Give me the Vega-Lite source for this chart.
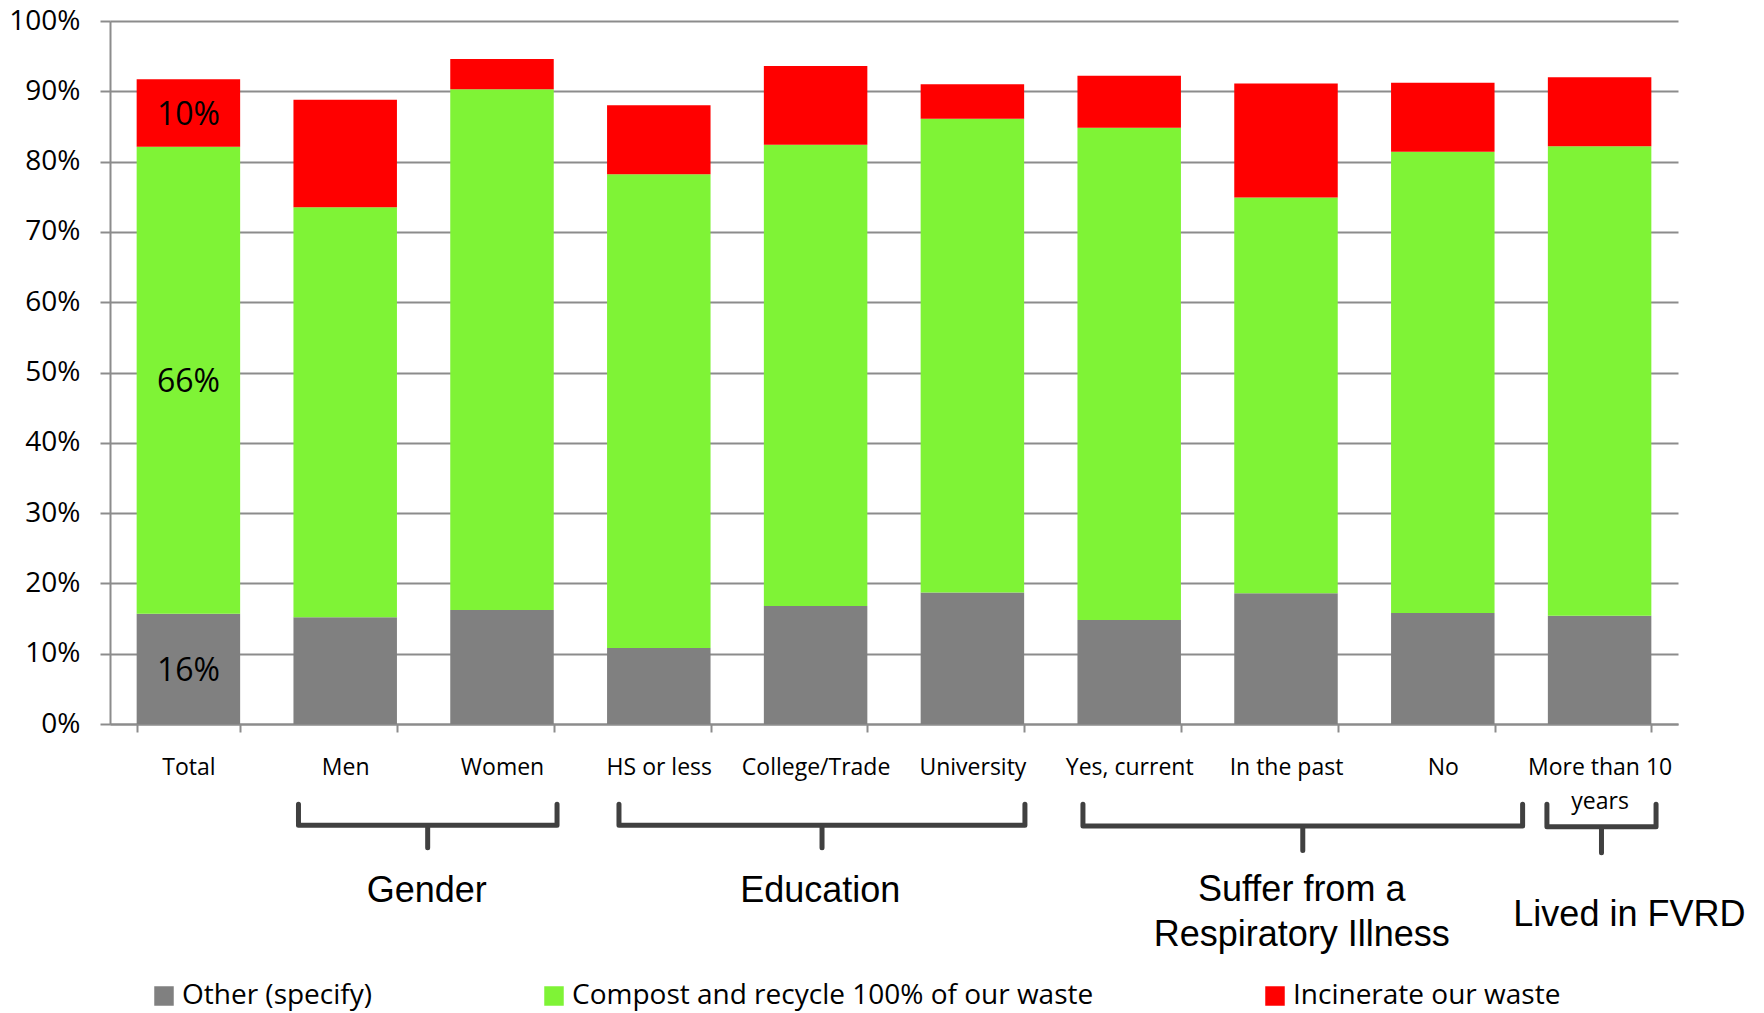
{
  "$schema": "https://vega.github.io/schema/vega-lite/v6.json",
  "width": 1568,
  "height": 703,
  "autosize": {"type": "none"},
  "padding": {"left": 110, "top": 21, "right": 86, "bottom": 289},
  "background": "white",
  "config": {
    "view": {"stroke": null},
    "font": "Open Sans",
    "axisX": {
      "labelFont": "Open Sans", "labelFontSize": 23, "labelColor": "black", "labelAngle": 0,
      "labelPadding": 24, "labelLineHeight": 34, "tickBand": "extent", "ticks": true, "tickSize": 8,
      "tickColor": "#8C8C8C", "tickWidth": 2, "domainColor": "#8C8C8C", "domainWidth": 2, "grid": false, "title": null
    },
    "axisY": {
      "labelFont": "Open Sans", "labelFontSize": 28, "labelColor": "black", "labelPadding": 20,
      "tickSize": 10, "tickColor": "#8C8C8C", "tickWidth": 2, "domainColor": "#8C8C8C", "domainWidth": 2,
      "grid": true, "gridColor": "#8C8C8C", "gridWidth": 2, "title": null
    }
  },
  "datasets": {
    "bars": [
      {"category": "Total", "type": "Other (specify)", "value": 0.157},
      {"category": "Total", "type": "Compost and recycle 100% of our waste", "value": 0.664},
      {"category": "Total", "type": "Incinerate our waste", "value": 0.096},
      {"category": "Men", "type": "Other (specify)", "value": 0.152},
      {"category": "Men", "type": "Compost and recycle 100% of our waste", "value": 0.583},
      {"category": "Men", "type": "Incinerate our waste", "value": 0.153},
      {"category": "Women", "type": "Other (specify)", "value": 0.162},
      {"category": "Women", "type": "Compost and recycle 100% of our waste", "value": 0.741},
      {"category": "Women", "type": "Incinerate our waste", "value": 0.043},
      {"category": "HS or less", "type": "Other (specify)", "value": 0.108},
      {"category": "HS or less", "type": "Compost and recycle 100% of our waste", "value": 0.674},
      {"category": "HS or less", "type": "Incinerate our waste", "value": 0.098},
      {"category": "College/Trade", "type": "Other (specify)", "value": 0.168},
      {"category": "College/Trade", "type": "Compost and recycle 100% of our waste", "value": 0.656},
      {"category": "College/Trade", "type": "Incinerate our waste", "value": 0.112},
      {"category": "University", "type": "Other (specify)", "value": 0.187},
      {"category": "University", "type": "Compost and recycle 100% of our waste", "value": 0.674},
      {"category": "University", "type": "Incinerate our waste", "value": 0.049},
      {"category": "Yes, current", "type": "Other (specify)", "value": 0.148},
      {"category": "Yes, current", "type": "Compost and recycle 100% of our waste", "value": 0.700},
      {"category": "Yes, current", "type": "Incinerate our waste", "value": 0.074},
      {"category": "In the past", "type": "Other (specify)", "value": 0.186},
      {"category": "In the past", "type": "Compost and recycle 100% of our waste", "value": 0.563},
      {"category": "In the past", "type": "Incinerate our waste", "value": 0.162},
      {"category": "No", "type": "Other (specify)", "value": 0.158},
      {"category": "No", "type": "Compost and recycle 100% of our waste", "value": 0.656},
      {"category": "No", "type": "Incinerate our waste", "value": 0.098},
      {"category": "More than 10 years", "type": "Other (specify)", "value": 0.154},
      {"category": "More than 10 years", "type": "Compost and recycle 100% of our waste", "value": 0.668},
      {"category": "More than 10 years", "type": "Incinerate our waste", "value": 0.098}
    ],
    "brackets": [
      {"group": "Gender", "i": 0, "bx": 1.202, "by": -0.114},
      {"group": "Gender", "i": 1, "bx": 1.202, "by": -0.144},
      {"group": "Gender", "i": 2, "bx": 2.026, "by": -0.144},
      {"group": "Gender", "i": 3, "bx": 2.026, "by": -0.176},
      {"group": "Gender", "i": 4, "bx": 2.026, "by": -0.144},
      {"group": "Gender", "i": 5, "bx": 2.851, "by": -0.144},
      {"group": "Gender", "i": 6, "bx": 2.851, "by": -0.114},
      {"group": "Education", "i": 0, "bx": 3.246, "by": -0.114},
      {"group": "Education", "i": 1, "bx": 3.246, "by": -0.144},
      {"group": "Education", "i": 2, "bx": 4.541, "by": -0.144},
      {"group": "Education", "i": 3, "bx": 4.541, "by": -0.176},
      {"group": "Education", "i": 4, "bx": 4.541, "by": -0.144},
      {"group": "Education", "i": 5, "bx": 5.835, "by": -0.144},
      {"group": "Education", "i": 6, "bx": 5.835, "by": -0.114},
      {"group": "Respiratory", "i": 0, "bx": 6.205, "by": -0.114},
      {"group": "Respiratory", "i": 1, "bx": 6.205, "by": -0.145},
      {"group": "Respiratory", "i": 2, "bx": 7.607, "by": -0.145},
      {"group": "Respiratory", "i": 3, "bx": 7.607, "by": -0.180},
      {"group": "Respiratory", "i": 4, "bx": 7.607, "by": -0.145},
      {"group": "Respiratory", "i": 5, "bx": 9.009, "by": -0.145},
      {"group": "Respiratory", "i": 6, "bx": 9.009, "by": -0.114},
      {"group": "Lived", "i": 0, "bx": 9.164, "by": -0.114},
      {"group": "Lived", "i": 1, "bx": 9.164, "by": -0.146},
      {"group": "Lived", "i": 2, "bx": 9.512, "by": -0.146},
      {"group": "Lived", "i": 3, "bx": 9.512, "by": -0.183},
      {"group": "Lived", "i": 4, "bx": 9.512, "by": -0.146},
      {"group": "Lived", "i": 5, "bx": 9.860, "by": -0.146},
      {"group": "Lived", "i": 6, "bx": 9.860, "by": -0.114}
    ],
    "groups": [
      {"label": "Gender", "gx": 2.02, "gy": -0.2375},
      {"label": "Education", "gx": 4.53, "gy": -0.2375},
      {"label": "Suffer from a", "gx": 7.60, "gy": -0.236},
      {"label": "Respiratory Illness", "gx": 7.60, "gy": -0.300},
      {"label": "Lived in FVRD", "gx": 9.69, "gy": -0.272}
    ]
  },
  "layer": [
    {
      "layer": [
        {
          "data": {"name": "bars"},
          "transform": [
            {"calculate": "indexof(['Other (specify)', 'Compost and recycle 100% of our waste', 'Incinerate our waste'], datum.type)", "as": "k"}
          ],
          "mark": {"type": "bar"},
          "encoding": {
            "x": {
              "field": "category", "type": "nominal",
              "sort": ["Total", "Men", "Women", "HS or less", "College/Trade", "University", "Yes, current", "In the past", "No", "More than 10 years"],
              "scale": {"paddingInner": 0.34, "paddingOuter": 0.17},
              "axis": {"labelExpr": "datum.label == 'More than 10 years' ? ['More than 10', 'years'] : datum.label"}
            },
            "y": {
              "field": "value", "type": "quantitative", "stack": "zero",
              "scale": {"domain": [0, 1], "nice": false},
              "axis": {"values": [0, 0.1, 0.2, 0.3, 0.4, 0.5, 0.6, 0.7, 0.8, 0.9, 1], "format": ".0%"},
              "title": null
            },
            "order": {"field": "k", "type": "quantitative", "sort": "ascending"},
            "color": {
              "field": "type", "type": "nominal",
              "sort": ["Other (specify)", "Compost and recycle 100% of our waste", "Incinerate our waste"],
              "scale": {
                "domain": ["Other (specify)", "Compost and recycle 100% of our waste", "Incinerate our waste"],
                "range": ["#808080", "#7FF336", "#FF0000"]
              },
              "legend": {
                "orient": "none", "legendX": 40, "legendY": 961, "direction": "horizontal", "title": null,
                "symbolType": "square", "symbolSize": 380, "symbolStrokeWidth": 0,
                "labelFont": "Open Sans", "labelFontSize": 28, "labelColor": "black", "labelOffset": 4,
                "columnPadding": 167, "padding": 0, "labelLimit": 1000
              }
            }
          }
        },
        {
          "data": {"name": "bars"},
          "transform": [
            {"filter": "datum.category === 'Total'"},
            {"calculate": "indexof(['Other (specify)', 'Compost and recycle 100% of our waste', 'Incinerate our waste'], datum.type)", "as": "k"},
            {"stack": "value", "groupby": ["category"], "sort": [{"field": "k"}], "as": ["v0", "v1"]},
            {"calculate": "(datum.v0 + datum.v1) / 2", "as": "mid"}
          ],
          "mark": {"type": "text", "font": "Open Sans", "fontSize": 32, "color": "black", "baseline": "middle", "align": "center", "dy": 2},
          "encoding": {
            "x": {
              "field": "category", "type": "nominal",
              "sort": ["Total", "Men", "Women", "HS or less", "College/Trade", "University", "Yes, current", "In the past", "No", "More than 10 years"]
            },
            "y": {"field": "mid", "type": "quantitative", "scale": {"domain": [0, 1], "nice": false}, "title": null},
            "text": {"field": "value", "type": "quantitative", "format": ".0%"}
          }
        }
      ]
    },
    {
      "data": {"name": "brackets"},
      "mark": {"type": "line", "color": "#404040", "strokeWidth": 5, "strokeJoin": "round", "strokeCap": "round"},
      "encoding": {
        "x": {"field": "bx", "type": "quantitative", "scale": {"domain": [0, 10], "nice": false, "zero": false}, "axis": null},
        "y": {"field": "by", "type": "quantitative", "scale": {"domain": [0, 1], "nice": false}, "title": null},
        "detail": {"field": "group", "type": "nominal"},
        "order": {"field": "i", "type": "quantitative"}
      }
    },
    {
      "data": {"name": "groups"},
      "mark": {"type": "text", "font": "Liberation Sans", "fontSize": 36, "color": "black", "align": "center", "baseline": "middle"},
      "encoding": {
        "x": {"field": "gx", "type": "quantitative", "scale": {"domain": [0, 10], "nice": false, "zero": false}, "axis": null},
        "y": {"field": "gy", "type": "quantitative", "scale": {"domain": [0, 1], "nice": false}, "title": null},
        "text": {"field": "label", "type": "nominal"}
      }
    }
  ],
  "resolve": {"scale": {"x": "independent"}}
}
